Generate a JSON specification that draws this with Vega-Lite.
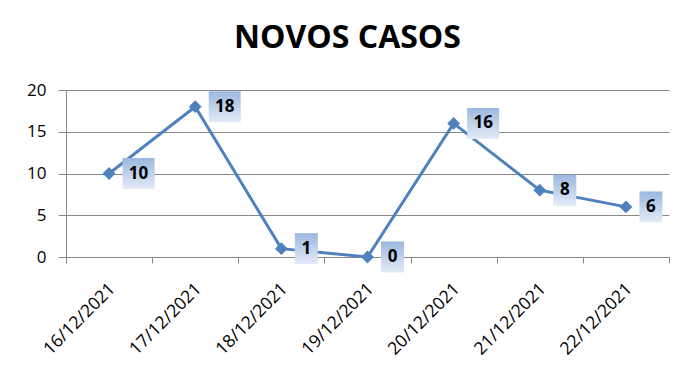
{
  "$schema": "https://vega.github.io/schema/vega-lite/v6.json",
  "autosize": "none",
  "width": 603,
  "height": 167,
  "padding": {"left": 66, "top": 90, "right": 25, "bottom": 134},
  "background": "white",
  "title": {"text": "NOVOS CASOS", "font": "Open Sans", "fontSize": 32, "fontWeight": "bold", "color": "black", "anchor": "middle", "dx": -20, "offset": 26},
  "config": {"view": {"stroke": null}},
  "data": {"values": [
    {"date": "16/12/2021", "cases": 10},
    {"date": "17/12/2021", "cases": 18},
    {"date": "18/12/2021", "cases": 1},
    {"date": "19/12/2021", "cases": 0},
    {"date": "20/12/2021", "cases": 16},
    {"date": "21/12/2021", "cases": 8},
    {"date": "22/12/2021", "cases": 6}
  ]},
  "encoding": {
    "x": {"field": "date", "type": "ordinal", "sort": null, "title": null,
      "axis": {"labelAngle": -45, "labelAlign": "right", "labelBaseline": "middle", "labelFont": "Open Sans", "labelFontSize": 17.5, "labelColor": "black", "labelPadding": 23, "tickBand": "extent", "domainColor": "#888", "tickColor": "#888", "tickSize": 6, "labelOffset": 3}},
    "y": {"field": "cases", "type": "quantitative", "title": null, "scale": {"domain": [0, 20]},
      "axis": {"values": [0, 5, 10, 15, 20], "labelFont": "Open Sans", "labelFontSize": 17, "labelColor": "black", "gridColor": "#888", "domainColor": "#888", "tickColor": "#888", "tickSize": 8, "labelPadding": 12}}
  },
  "layer": [
    {"mark": {"type": "line", "color": "#4f81bd", "strokeWidth": 3}},
    {"mark": {"type": "point", "shape": "diamond", "filled": true, "color": "#4f81bd", "size": 165, "opacity": 1}},
    {"transform": [{"filter": "datum.cases >= 10"}],
     "mark": {"type": "rect", "width": 32, "height": 31, "xOffset": 29.5,
       "fill": {"gradient": "linear", "x1": 0, "y1": 0, "x2": 0, "y2": 1, "stops": [{"offset": 0, "color": "#9bb7e0"}, {"offset": 1, "color": "#e4ebf7"}]}}},
    {"transform": [{"filter": "datum.cases < 10"}],
     "mark": {"type": "rect", "width": 23, "height": 31, "xOffset": 25,
       "fill": {"gradient": "linear", "x1": 0, "y1": 0, "x2": 0, "y2": 1, "stops": [{"offset": 0, "color": "#9bb7e0"}, {"offset": 1, "color": "#e4ebf7"}]}}},
    {"mark": {"type": "text", "align": "center", "baseline": "middle", "font": "Open Sans", "fontWeight": "bold", "fontSize": 17, "color": "black", "dx": 29.5},
     "transform": [{"filter": "datum.cases >= 10"}],
     "encoding": {"text": {"field": "cases", "type": "quantitative"}}},
    {"mark": {"type": "text", "align": "center", "baseline": "middle", "font": "Open Sans", "fontWeight": "bold", "fontSize": 17, "color": "black", "dx": 25},
     "transform": [{"filter": "datum.cases < 10"}],
     "encoding": {"text": {"field": "cases", "type": "quantitative"}}}
  ]
}
